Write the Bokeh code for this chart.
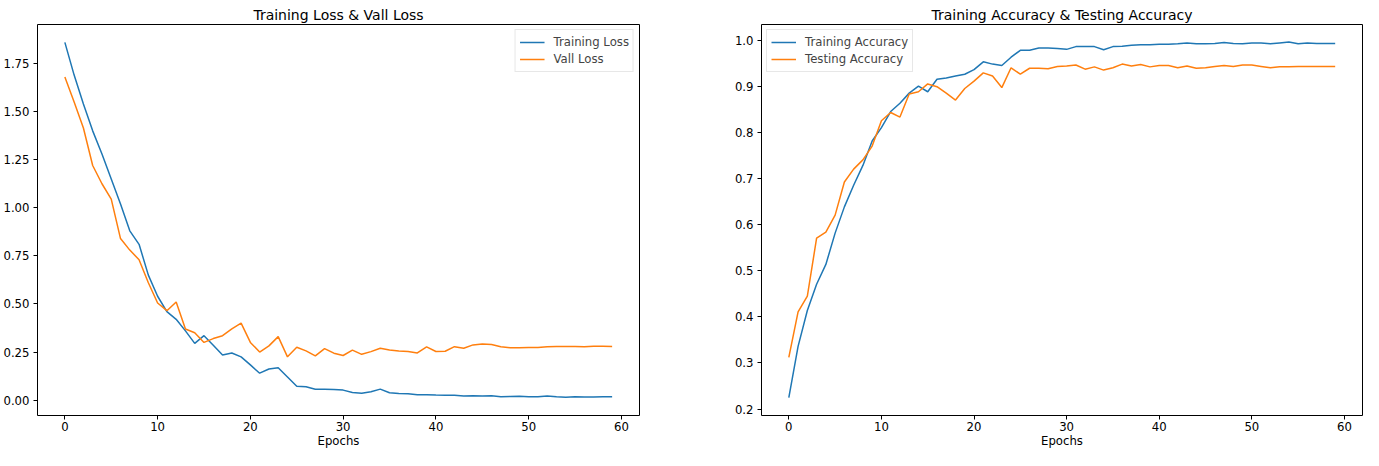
from bokeh.plotting import figure
from bokeh.layouts import row
from bokeh.models import FixedTicker, PrintfTickFormatter, Range1d, Legend, LegendItem
from bokeh.embed import file_html
from bokeh.resources import INLINE

epochs = list(range(60))

train_loss = [1.86, 1.69, 1.54, 1.40, 1.28, 1.15, 1.02, 0.88, 0.81, 0.65,
              0.54, 0.46, 0.42, 0.36, 0.295, 0.335, 0.285, 0.235, 0.245, 0.225,
              0.183, 0.14, 0.162, 0.168, 0.12, 0.072, 0.07, 0.057, 0.056, 0.055,
              0.052, 0.04, 0.036, 0.043, 0.057, 0.038, 0.034, 0.033, 0.028, 0.028,
              0.026, 0.025, 0.025, 0.022, 0.023, 0.021, 0.023, 0.018, 0.019, 0.02,
              0.017, 0.017, 0.021, 0.017, 0.015, 0.018, 0.016, 0.016, 0.017, 0.018]

val_loss = [1.68, 1.55, 1.415, 1.22, 1.125, 1.045, 0.84, 0.78, 0.73, 0.61,
            0.505, 0.465, 0.51, 0.37, 0.35, 0.30, 0.32, 0.335, 0.37, 0.40,
            0.30, 0.25, 0.282, 0.33, 0.225, 0.275, 0.256, 0.23, 0.268, 0.244,
            0.232, 0.26, 0.238, 0.252, 0.27, 0.26, 0.255, 0.253, 0.245, 0.277,
            0.253, 0.254, 0.278, 0.27, 0.287, 0.292, 0.289, 0.277, 0.272, 0.272,
            0.273, 0.274, 0.278, 0.279, 0.279, 0.279, 0.278, 0.28, 0.28, 0.279]

train_acc = [0.225, 0.336, 0.414, 0.471, 0.514, 0.582, 0.639, 0.686, 0.729, 0.782,
             0.811, 0.846, 0.864, 0.886, 0.901, 0.889, 0.916, 0.919, 0.923, 0.927,
             0.937, 0.954, 0.949, 0.946, 0.964, 0.979, 0.979, 0.984, 0.984, 0.983,
             0.981, 0.987, 0.987, 0.987, 0.980, 0.987, 0.988, 0.990, 0.991, 0.991,
             0.992, 0.992, 0.993, 0.995, 0.993, 0.993, 0.994, 0.996, 0.994, 0.993,
             0.995, 0.995, 0.993, 0.995, 0.997, 0.993, 0.995, 0.994, 0.994, 0.994]

test_acc = [0.312, 0.411, 0.445, 0.571, 0.584, 0.621, 0.693, 0.721, 0.741, 0.771,
            0.826, 0.844, 0.834, 0.884, 0.889, 0.906, 0.900, 0.886, 0.871, 0.896,
            0.912, 0.930, 0.923, 0.898, 0.941, 0.927, 0.940, 0.940, 0.939, 0.944,
            0.945, 0.947, 0.938, 0.943, 0.936, 0.941, 0.949, 0.945, 0.948, 0.943,
            0.946, 0.946, 0.941, 0.945, 0.940, 0.941, 0.944, 0.946, 0.944, 0.947,
            0.947, 0.944, 0.941, 0.943, 0.943, 0.944, 0.944, 0.944, 0.944, 0.944]

x_ticks = [0, 10, 20, 30, 40, 50, 60]
loss_ticks = [0.0, 0.25, 0.5, 0.75, 1.0, 1.25, 1.5, 1.75]
acc_ticks = [0.2, 0.3, 0.4, 0.5, 0.6, 0.7, 0.8, 0.9, 1.0]

BLUE = "#1f77b4"
ORANGE = "#ff7f0e"
FONT = "DejaVu Sans"


def make_fig(width, bl, br, title, yr, yticks, yfmt, s1, s2, n1, n2, loc):
    p = figure(width=width, height=450, output_backend="svg", toolbar_location=None,
               min_border_left=bl, min_border_right=br, min_border_top=24,
               min_border_bottom=29,
               x_range=Range1d(-2.95, 61.95), y_range=Range1d(*yr))
    p.title.text = title
    p.title.align = "center"
    p.title.text_font = FONT
    p.title.text_font_size = "14px"
    p.title.text_font_style = "normal"
    p.title.text_color = "black"
    p.title.standoff = 3
    p.xgrid.visible = False
    p.ygrid.visible = False
    p.outline_line_color = "black"
    p.outline_line_width = 1
    p.outline_line_alpha = 1
    for ax in (p.xaxis[0], p.yaxis[0]):
        ax.axis_line_color = None
        ax.major_tick_in = 0
        ax.major_tick_out = 4
        ax.minor_tick_line_color = None
        ax.major_tick_line_color = "black"
        ax.major_label_text_font = FONT
        ax.major_label_text_font_size = "11.7px"
        ax.major_label_text_color = "black"
    p.yaxis.major_label_standoff = 4
    p.xaxis.major_label_standoff = 2
    p.xaxis.ticker = FixedTicker(ticks=x_ticks)
    p.yaxis.ticker = FixedTicker(ticks=yticks)
    p.yaxis.formatter = PrintfTickFormatter(format=yfmt)
    p.xaxis.axis_label = "Epochs"
    p.xaxis.axis_label_text_font = FONT
    p.xaxis.axis_label_text_font_size = "11.7px"
    p.xaxis.axis_label_text_font_style = "normal"
    p.xaxis.axis_label_text_color = "black"
    p.xaxis.axis_label_standoff = 0
    r1 = p.line(epochs, s1, line_color=BLUE, line_width=1.5)
    r2 = p.line(epochs, s2, line_color=ORANGE, line_width=1.5)
    leg = Legend(items=[LegendItem(label=n1, renderers=[r1]),
                        LegendItem(label=n2, renderers=[r2])],
                 location=loc, margin=5, padding=4, spacing=1,
                 label_height=16, glyph_height=16, glyph_width=25,
                 label_standoff=9, label_text_font=FONT,
                 label_text_font_size="11.7px",
                 border_line_color="#d0d0d0", border_line_width=1,
                 background_fill_alpha=0.8)
    p.add_layout(leg, "center")
    return p


p1 = make_fig(690, 35, 51, "Training Loss & Vall Loss", (-0.080, 1.953),
              loss_ticks, "%.2f", train_loss, val_loss,
              "Training Loss", "Vall Loss", "top_right")
p2 = make_fig(673, 71, 1, "Training Accuracy & Testing Accuracy", (0.186, 1.035),
              acc_ticks, "%.1f", train_acc, test_acc,
              "Training Accuracy", "Testing Accuracy", "top_left")

layout = row(p1, p2)
open("out.html", "w").write(file_html(layout, INLINE))
